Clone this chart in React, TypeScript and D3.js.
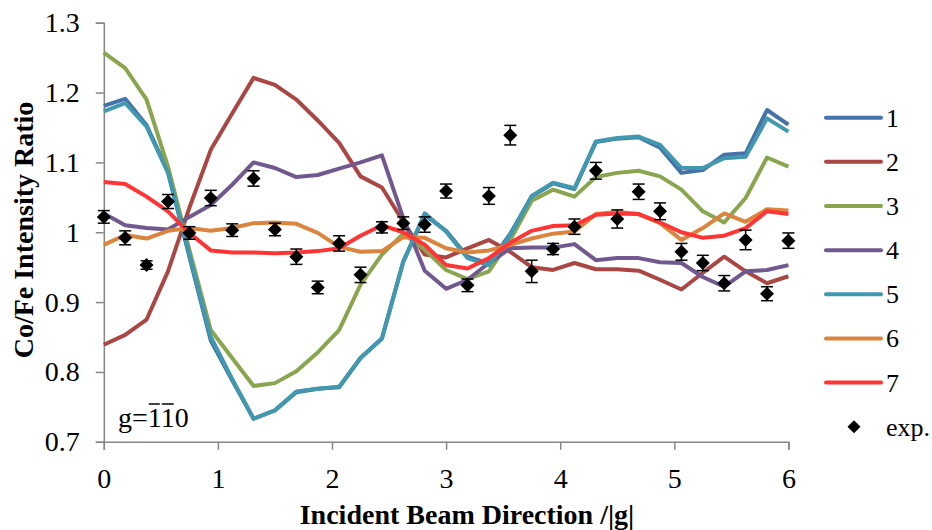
import React, { useEffect, useRef } from 'react';
import { select, scaleLinear, line, axisBottom, axisLeft } from 'd3';

// incident beam direction /|g|
const beamDir = [
  0, 0.1875, 0.375, 0.5625, 0.75, 0.9375, 1.125, 1.3125, 1.5, 1.6875, 1.875,
  2.0625, 2.25, 2.4375, 2.625, 2.8125, 3, 3.1875, 3.375, 3.5625, 3.75, 3.9375,
  4.125, 4.3125, 4.5, 4.6875, 4.875, 5.0625, 5.25, 5.4375, 5.625, 5.8125, 6,
];

const series1 = [
  1.181, 1.191, 1.153, 1.087, 0.965, 0.845, 0.788, 0.733, 0.745, 0.771, 0.776,
  0.778, 0.82, 0.848, 0.958, 1.025, 1.002, 0.965, 0.955, 0.998, 1.051, 1.07,
  1.062, 1.129, 1.134, 1.136, 1.121, 1.085, 1.089, 1.111, 1.113, 1.175, 1.154,
];
const series2 = [
  0.839, 0.853, 0.875, 0.944, 1.035, 1.118, 1.17, 1.221, 1.211, 1.19, 1.16,
  1.128, 1.08, 1.064, 1.015, 0.968, 0.964, 0.977, 0.989, 0.972, 0.95, 0.946,
  0.956, 0.947, 0.947, 0.945, 0.932, 0.918, 0.942, 0.965, 0.944, 0.927, 0.937,
];
const series3 = [
  1.257, 1.235, 1.19, 1.094, 0.975, 0.86, 0.82, 0.78, 0.784, 0.801, 0.828,
  0.86, 0.925, 0.968, 0.998, 0.975, 0.946, 0.933, 0.944, 0.989, 1.045, 1.061,
  1.051, 1.079, 1.085, 1.088, 1.08, 1.061, 1.03, 1.014, 1.049, 1.107, 1.094,
];
const series4 = [
  1.027, 1.01, 1.006, 1.004, 1.022, 1.039, 1.068, 1.1, 1.092, 1.079, 1.082,
  1.091, 1.1, 1.11, 1.02, 0.945, 0.919, 0.932, 0.956, 0.977, 0.978, 0.978,
  0.983, 0.96, 0.963, 0.963, 0.957, 0.956, 0.936, 0.922, 0.944, 0.946, 0.953,
];
const series5 = [
  1.173, 1.185, 1.151, 1.085, 0.968, 0.85, 0.79, 0.733, 0.745, 0.772, 0.776,
  0.779, 0.82, 0.848, 0.958, 1.027, 1.001, 0.963, 0.953, 0.996, 1.052, 1.071,
  1.063, 1.13, 1.135, 1.137, 1.125, 1.092, 1.092, 1.106, 1.108, 1.163, 1.144,
];
const series6 = [
  0.982, 0.996, 0.991, 1.002, 1.006, 1.002, 1.006, 1.013, 1.014, 1.012, 0.999,
  0.979, 0.972, 0.973, 0.993, 0.992, 0.977, 0.971, 0.974, 0.982, 0.991, 0.998,
  1.001, 1.026, 1.029, 1.026, 1.013, 0.989, 1.006, 1.027, 1.015, 1.033, 1.031,
];
const series7 = [
  1.072, 1.069, 1.051, 1.03, 0.999, 0.974, 0.971, 0.971, 0.97, 0.971, 0.973,
  0.977, 0.995, 1.01, 1.0, 0.982, 0.953, 0.948, 0.963, 0.985, 1.002, 1.009,
  1.01, 1.025, 1.027, 1.026, 1.014, 1.0, 0.992, 0.995, 1.006, 1.03, 1.026,
];

// measured ratio and its error
const expValues = [
  1.022, 0.992, 0.953, 1.044, 0.999, 1.049, 1.003, 1.077, 1.004, 0.965, 0.921,
  0.984, 0.939, 1.007, 1.013, 1.011, 1.059, 0.924, 1.052, 1.139, 0.944, 0.976,
  1.008, 1.088, 1.019, 1.058, 1.03, 0.972, 0.956, 0.927, 0.989, 0.912, 0.988,
];
const expErrors = [
  0.009, 0.01, 0.006, 0.01, 0.009, 0.011, 0.009, 0.011, 0.009, 0.011, 0.009,
  0.011, 0.011, 0.008, 0.009, 0.011, 0.01, 0.009, 0.012, 0.014, 0.016, 0.008,
  0.011, 0.012, 0.013, 0.011, 0.012, 0.012, 0.011, 0.011, 0.014, 0.01, 0.011,
];

const seriesNames = ['1', '2', '3', '4', '5', '6', '7'];
const allSeries = [series1, series2, series3, series4, series5, series6, series7];
const colors = ['#4572A7', '#AA4643', '#89A54E', '#71588F', '#4198AF', '#DB843D', '#FF3535'];

const xTicks = [0, 1, 2, 3, 4, 5, 6];
const yTicks = [0.7, 0.8, 0.9, 1.0, 1.1, 1.2, 1.3];

const W = 932;
const H = 530;
const serif = '"Liberation Serif", "Times New Roman", serif';

const Chart = () => {
  const svgRef = useRef(null);
  useEffect(() => {
    const svg = select(svgRef.current);
    svg.selectAll('*').remove();

    const x = scaleLinear().domain([0, 6]).range([103.8, 788.4]);
    const y = scaleLinear().domain([0.7, 1.3]).range([441.8, 22.7]);
    const axisColor = '#868686';

    const gx = svg
      .append('g')
      .attr('transform', `translate(0,${y(0.7)})`)
      .call(axisBottom(x).tickValues(xTicks).tickSize(8).tickPadding(18).tickFormat((d) => `${d}`));
    const gy = svg
      .append('g')
      .attr('transform', `translate(${x(0)},0)`)
      .call(axisLeft(y).tickValues(yTicks).tickSize(8).tickPadding(16).tickFormat((d) => `${+(+d).toFixed(1)}`));

    [gx, gy].forEach((g) => {
      g.select('.domain').attr('stroke', axisColor).attr('stroke-width', 1.5);
      g.selectAll('.tick line').attr('stroke', axisColor).attr('stroke-width', 1.5);
      g.selectAll('.tick text')
        .attr('fill', '#000')
        .style('font-family', serif)
        .style('font-size', '28px');
    });

    const lineGen = line<number>()
      .x((_, i) => x(beamDir[i]))
      .y((d) => y(d));

    allSeries.forEach((s, k) => {
      svg
        .append('path')
        .datum(s)
        .attr('fill', 'none')
        .attr('stroke', colors[k])
        .attr('stroke-width', 4)
        .attr('stroke-linejoin', 'round')
        .attr('d', lineGen);
    });

    // experimental points with error bars
    const exp = svg.append('g');
    const diamond = (r) => `M0,${-r}L${r},0L0,${r}L${-r},0Z`;
    expValues.forEach((v, i) => {
      const cx = x(beamDir[i]);
      const e = expErrors[i];
      exp.append('line')
        .attr('x1', cx).attr('x2', cx)
        .attr('y1', y(v - e)).attr('y2', y(v + e))
        .attr('stroke', '#000').attr('stroke-width', 1.5);
      [v - e, v + e].forEach((c) => {
        exp.append('line')
          .attr('x1', cx - 6).attr('x2', cx + 6)
          .attr('y1', y(c)).attr('y2', y(c))
          .attr('stroke', '#000').attr('stroke-width', 1.5);
      });
      exp.append('path')
        .attr('transform', `translate(${cx},${y(v)})`)
        .attr('d', diamond(7))
        .attr('fill', '#000');
    });

    // legend
    const legend = svg.append('g');
    seriesNames.forEach((name, k) => {
      const ly = 117.7 + k * 44.15;
      legend.append('line')
        .attr('x1', 826).attr('x2', 881)
        .attr('y1', ly).attr('y2', ly)
        .attr('stroke', colors[k]).attr('stroke-width', 4)
        .attr('stroke-linecap', 'round');
      legend.append('text')
        .attr('x', 886).attr('y', ly + 9)
        .style('font-family', serif).style('font-size', '26px')
        .text(name);
    });
    const ey = 117.7 + 7 * 44.15;
    legend.append('path')
      .attr('transform', `translate(854,${ey})`)
      .attr('d', diamond(6.5))
      .attr('fill', '#000');
    legend.append('text')
      .attr('x', 886).attr('y', ey + 9)
      .style('font-family', serif).style('font-size', '26px')
      .text('exp.');

    // axis titles
    svg.append('text')
      .attr('x', 467).attr('y', 524)
      .attr('text-anchor', 'middle')
      .style('font-family', serif).style('font-size', '28px').style('font-weight', 'bold')
      .text('Incident Beam Direction /|g|');
    svg.append('text')
      .attr('transform', `translate(33,230) rotate(-90)`)
      .attr('text-anchor', 'middle')
      .style('font-family', serif).style('font-size', '28px').style('font-weight', 'bold')
      .text('Co/Fe Intensity Ratio');

    // zone annotation g = [-1 -1 0], bars drawn over each 1
    const note = svg.append('text')
      .attr('x', 118).attr('y', 427)
      .style('font-family', serif).style('font-size', '28px')
      .text('g=110');
    const node = note.node();
    [2, 3].forEach((c) => {
      const sx = node.getStartPositionOfChar(c).x;
      const ex = node.getEndPositionOfChar(c).x;
      svg.append('line')
        .attr('x1', sx + 1).attr('x2', ex - 1)
        .attr('y1', 404).attr('y2', 404)
        .attr('stroke', '#000').attr('stroke-width', 1.5);
    });
  }, []);

  return (
    <svg
      ref={svgRef}
      width={W}
      height={H}
      style={{ position: 'absolute', left: 0, top: 0, background: '#fff' }}
    />
  );
};

export default function App() {
  return <Chart />;
}
